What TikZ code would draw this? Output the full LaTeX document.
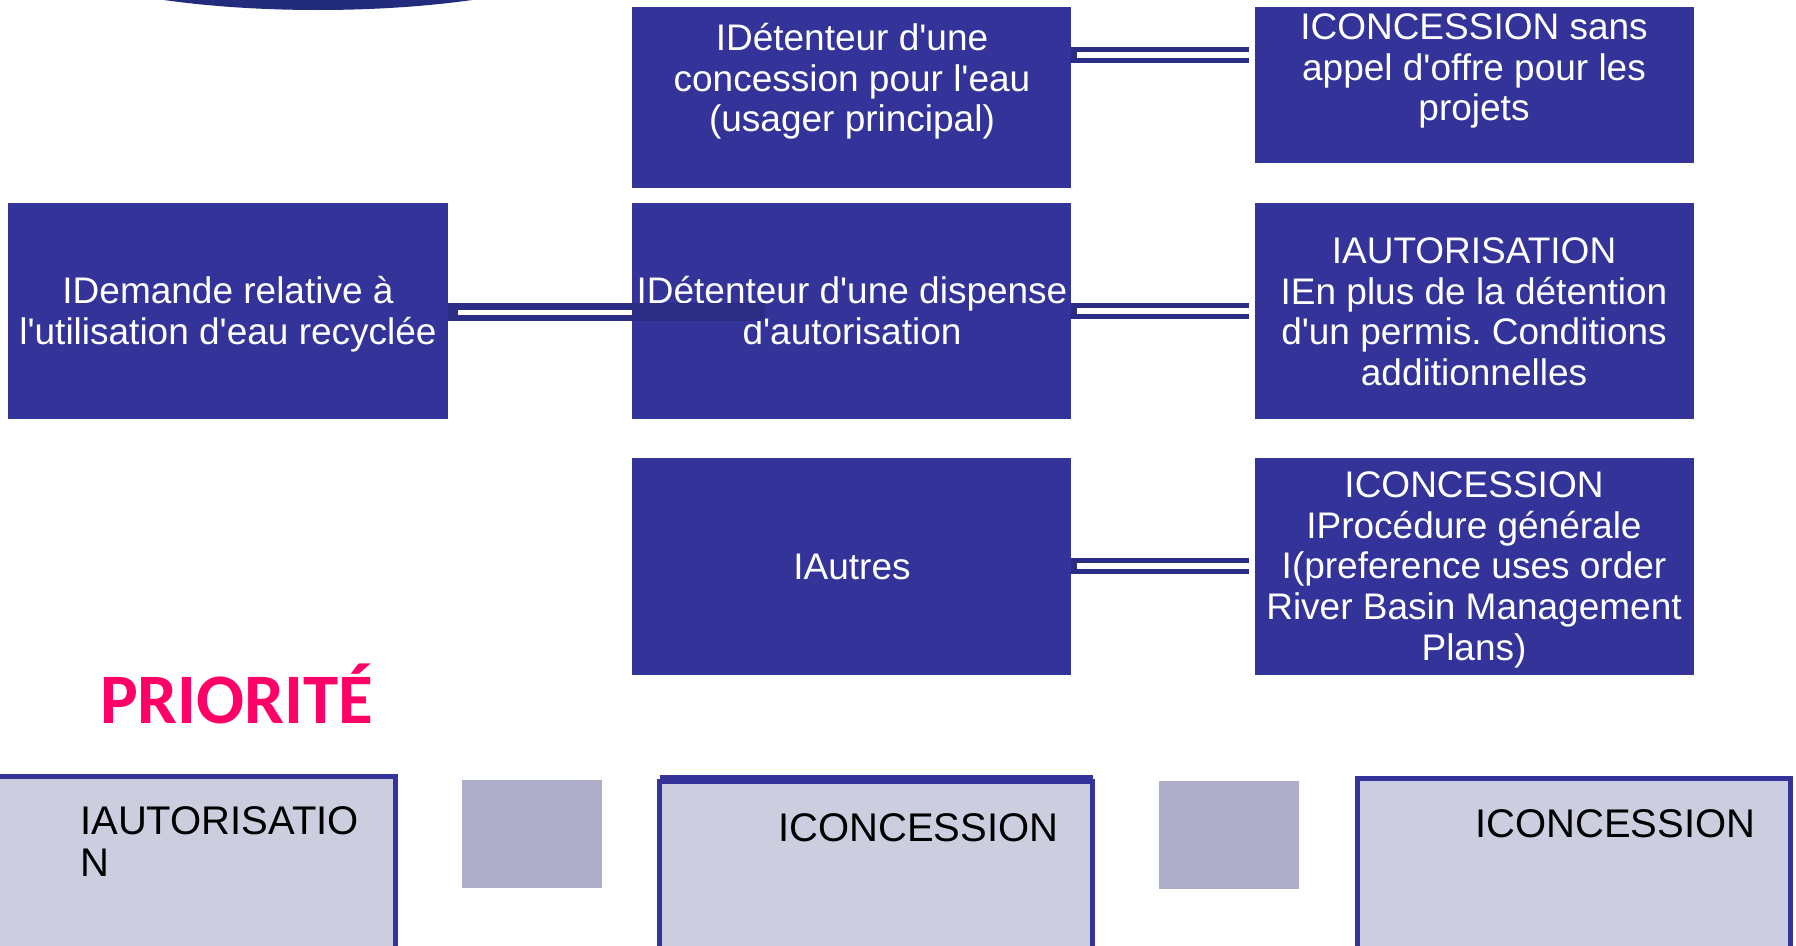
\documentclass[tikz,border=0pt]{standalone}
\usepackage{fontspec}
\setmainfont{Liberation Sans}[Ligatures=TeXOff]
\newfontfamily\priofont{Carlito}
\frenchspacing
\definecolor{boxblue}{RGB}{51,51,153}
\definecolor{connblue}{RGB}{43,45,133}
\definecolor{navyblue}{RGB}{35,43,125}
\definecolor{lightfill}{RGB}{205,205,224}
\definecolor{grayfill}{RGB}{173,173,201}
\definecolor{priopink}{RGB}{255,0,102}
\newcommand{\fl}{\rule{0pt}{32pt}}
\begin{document}
\begin{tikzpicture}[x=1pt,y=-1pt,
  bluebox/.style={fill=boxblue,draw=none,inner sep=0,outer sep=0,anchor=north west},
  boxtext/.style={text=white,align=center,inner sep=0,anchor=north,font=\fontsize{37}{40.8}\selectfont},
  connout/.style={draw=connblue,line width=16,line cap=butt},
  connin/.style={draw=white,line width=6,line cap=butt},
  lightbox/.style={fill=lightfill,draw=boxblue,line width=5,inner sep=0,outer sep=0,anchor=north west},
  graybox/.style={fill=grayfill,draw=none,inner sep=0,outer sep=0,anchor=north west},
  lowtext/.style={text=black,align=left,inner sep=0,anchor=north west,font=\fontsize{40}{42}\selectfont}]
\useasboundingbox (0,0) rectangle (1796,945);
% top ellipse
\fill[navyblue] (318,-63) ellipse [x radius=305, y radius=73];
% blue boxes
\node[bluebox,minimum width=439,minimum height=181] (m1) at (632,7) {};
\node[bluebox,minimum width=439,minimum height=156] (r1) at (1255,7) {};
\node[bluebox,minimum width=440,minimum height=216] (l2) at (8,203) {};
\node[bluebox,minimum width=439,minimum height=216] (m2) at (632,203) {};
\node[bluebox,minimum width=439,minimum height=216] (r2) at (1255,203) {};
\node[bluebox,minimum width=439,minimum height=217] (m3) at (632,458) {};
\node[bluebox,minimum width=439,minimum height=217] (r3) at (1255,458) {};
% texts
\node[boxtext] (m1t) at (852,18) {\fl IDétenteur d'une\\concession pour l'eau\\(usager principal)};
\node[boxtext] (r1t) at (1474,7) {\fl ICONCESSION sans\\appel d'offre pour les\\projets};
\node[boxtext] (l2t) at (228,271) {\fl IDemande relative à\\l'utilisation d'eau recyclée};
\node[boxtext] (m2t) at (852,271) {\fl IDétenteur d'une dispense\\d'autorisation};
\node[boxtext] (r2t) at (1474,231) {\fl IAUTORISATION\\IEn plus de la détention\\d'un permis. Conditions\\additionnelles};
\node[boxtext] (m3t) at (852,547) {\fl IAutres};
\node[boxtext] (r3t) at (1474,465) {\fl ICONCESSION\\IProcédure générale\\I(preference uses order\\River Basin Management\\Plans)};
% connector levels
\coordinate (y1) at (0,55);
\coordinate (y2) at (0,311);
\coordinate (y3) at (0,566);
\coordinate (yl) at (0,312);
\coordinate (lend) at (765,312);
% right connectors
\draw[connout] (m1.east |- y1) -- ([xshift=-6]r1.west |- y1);
\draw[connin] ([xshift=6]m1.east |- y1) -- ([xshift=-6]r1.west |- y1);
\draw[connout] (m2.east |- y2) -- ([xshift=-6]r2.west |- y2);
\draw[connin] ([xshift=6]m2.east |- y2) -- ([xshift=-6]r2.west |- y2);
\draw[connout] (m3.east |- y3) -- ([xshift=-6]r3.west |- y3);
\draw[connin] ([xshift=6]m3.east |- y3) -- ([xshift=-6]r3.west |- y3);
% left connector
\draw[connout,line width=18] (l2.east |- yl) -- (lend);
\draw[connin,line width=5] ([xshift=10]l2.east |- yl) -- (m2.west |- yl);
% PRIORITE
\node[inner sep=0,anchor=base west,text=priopink,font=\priofont\bfseries\fontsize{71}{80}\selectfont] (prio) at (100,723) {PRIORITÉ};
% bottom boxes
\node[lightbox,minimum width=415,minimum height=200] (b1) at (-20,776) {};
\node[lightbox,minimum width=433,minimum height=200] (b2) at (659.5,781) {};
\draw[boxblue,line width=5] ([yshift=4]b2.north west) -- ([yshift=4]b2.north east);
\node[lightbox,minimum width=433,minimum height=200] (b3) at (1357,778) {};
\node[graybox,minimum width=140,minimum height=108] (g1) at (462,780) {};
\node[graybox,minimum width=140,minimum height=108] (g2) at (1159,781) {};
% bottom texts
\node[lowtext] (b1t) at (80,802) {\fl IAUTORISATIO\\N};
\node[lowtext] (b2t) at (778,809) {\fl ICONCESSION};
\node[lowtext] (b3t) at (1475,805) {\fl ICONCESSION};
\end{tikzpicture}
\end{document}
